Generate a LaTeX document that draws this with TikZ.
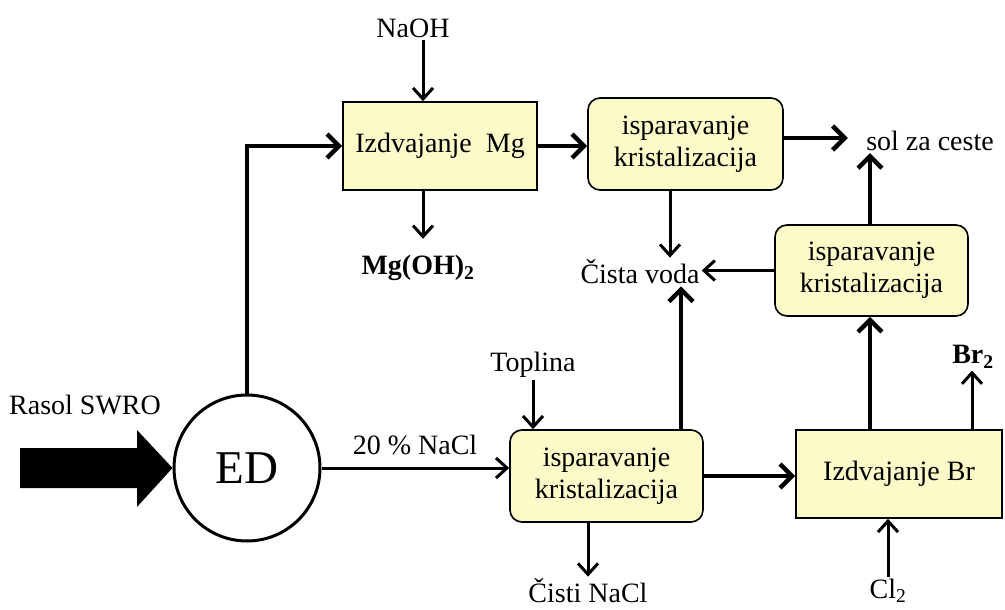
\documentclass[tikz,border=0pt]{standalone}
\usepackage{fontspec}
\setmainfont{Liberation Serif}
\usetikzlibrary{arrows.meta,calc}
\definecolor{boxfill}{RGB}{252,250,200}
\begin{document}
\begin{tikzpicture}[x=1pt,y=-1pt,
  every node/.style={font=\fontsize{28}{32}\selectfont},
  lbl/.style={inner sep=2pt},
  procbox/.style={draw, line width=1.6pt, fill=boxfill, align=center, inner sep=0pt},
  roundbox/.style={procbox, rounded corners=12pt},
  thickarr/.style={line width=4.5pt, -{Straight Barb[length=12pt,width=24pt]}},
  thinarr/.style={line width=3pt, -{Straight Barb[length=11pt,width=20pt]}}
]
\useasboundingbox (0,0) rectangle (1005,610);

% nodes
\node[draw, circle, line width=3pt, minimum size=146pt, inner sep=0pt,
      font=\fontsize{47}{50}\selectfont] (ED) at (247,468) {ED};
\node[lbl] (rasol) at (85,405) {Rasol SWRO};

\node[procbox, minimum width=194pt, minimum height=88pt] (mg) at (440,146) {Izdvajanje\ \ Mg};
\node[roundbox, minimum width=195pt, minimum height=92pt] (ev1) at (685.5,144) {isparavanje\\kristalizacija};
\node[roundbox, minimum width=193pt, minimum height=92pt] (ev2) at (606.5,476) {isparavanje\\kristalizacija};
\node[roundbox, minimum width=193pt, minimum height=91pt] (ev3) at (871.5,270.5) {isparavanje\\kristalizacija};
\node[procbox, minimum width=206pt, minimum height=88pt] (br) at (899,474) {Izdvajanje Br};

\node[lbl] (naoh) at (413,28) {NaOH};
\node[lbl] (mgoh) at (418,268) {\textbf{Mg(OH)\textsubscript{2}}};
\node[lbl] (voda) at (640,272) {Čista voda};
\node[lbl] (sol) at (930,141) {sol za ceste};
\node[lbl] (toplina) at (533,365) {Toplina};
\node[lbl] (nacl) at (415,445) {20 \% NaCl};
\node[lbl] (cisti) at (588,591) {Čisti NaCl};
\node[lbl] (cl) at (888,591) {Cl\textsubscript{2}};
\node[lbl] (brr) at (973,357) {\textbf{Br\textsubscript{2}}};

% helper x positions
\coordinate (xa) at (423,0);
\coordinate (xb) at (670,0);
\coordinate (xc) at (870,0);
\coordinate (xd) at (681,0);
\coordinate (xe) at (533,0);
\coordinate (xf) at (588,0);
\coordinate (xg) at (888,0);
\coordinate (xh) at (972,0);

% big feed arrow
\fill (20,448) -- (137,448) -- (137,430) -- (ED.west) -- (137,507) -- (137,488) -- (20,488) -- cycle;

% connectors
\draw[thickarr] (ED.north) |- (mg.west);
\draw[thinarr] (naoh.south -| xa) -- (mg.north -| xa);
\draw[thinarr] (mg.south -| xa) -- ++(0,48);
\draw[thickarr] (mg.east) -- (mg.east -| ev1.west);
\draw[thickarr] ([yshift=6pt]ev1.east) -- ++(64,0);
\draw[thinarr] (ev1.south -| xb) -- (voda.north -| xb);
\draw[thinarr] (ev3.west) -- (ev3.west -| voda.east);
\draw[thickarr] (ev3.north -| xc) -- (sol.south -| xc);
\draw[thickarr] (br.north -| xc) -- (ev3.south -| xc);
\draw[thickarr] (ev2.north -| xd) -- (voda.south -| xd);
\draw[thinarr] (ED.east) -- (ED.east -| ev2.west);
\draw[thinarr] (toplina.south -| xe) -- (ev2.north -| xe);
\draw[thinarr] (ev2.south -| xf) -- (cisti.north -| xf);
\draw[thickarr] (ev2.east) -- (ev2.east -| br.west);
\draw[thinarr] (cl.north -| xg) -- (br.south -| xg);
\draw[thinarr] (br.north -| xh) -- (brr.south -| xh);
\end{tikzpicture}
\end{document}
